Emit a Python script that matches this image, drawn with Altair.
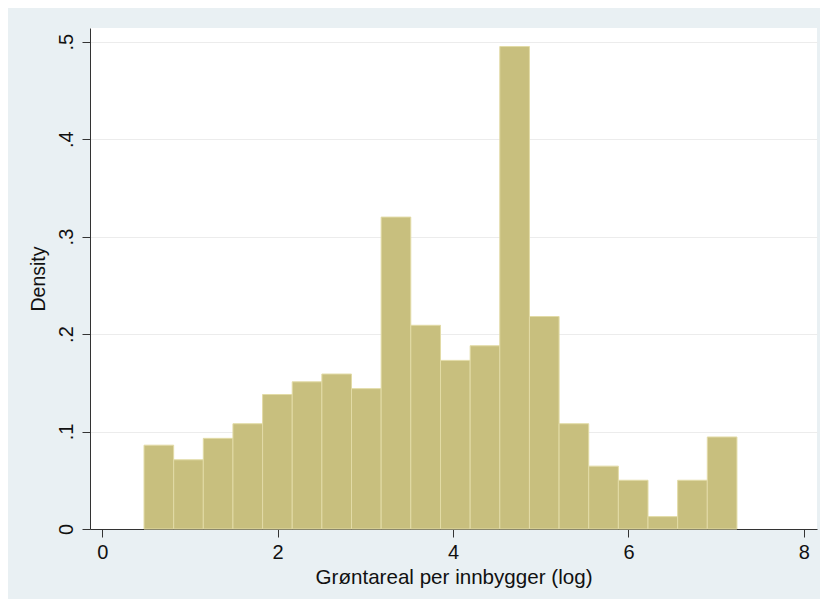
import altair as alt
import pandas as pd

bin_start = [0.476, 0.814, 1.152, 1.490, 1.828, 2.166, 2.504, 2.842, 3.180, 3.518,
             3.857, 4.195, 4.533, 4.871, 5.209, 5.547, 5.885, 6.223, 6.561, 6.899]
bin_end = [0.814, 1.152, 1.490, 1.828, 2.166, 2.504, 2.842, 3.180, 3.518, 3.857,
           4.195, 4.533, 4.871, 5.209, 5.547, 5.885, 6.223, 6.561, 6.899, 7.237]
density = [0.086, 0.071, 0.093, 0.108, 0.138, 0.151, 0.159, 0.144, 0.320, 0.209,
           0.173, 0.188, 0.495, 0.218, 0.108, 0.0645, 0.050, 0.0127, 0.050, 0.0944]

x_ticks = [0, 2, 4, 6, 8]
y_ticks = [0, 0.1, 0.2, 0.3, 0.4, 0.5]

df = pd.DataFrame({"x0": bin_start, "x1": bin_end, "d": density})

font = "Liberation Sans"

chart = alt.Chart(df).mark_rect(
    color="#c8bf7e", stroke="#e2dba6", strokeWidth=1
).encode(
    x=alt.X("x0:Q", scale=alt.Scale(domain=[-0.14, 8.15], nice=False, zero=False),
            axis=alt.Axis(values=x_ticks, title="Grøntareal per innbygger (log)",
                          grid=False, format="d", labelFontSize=20, titleFontSize=20.6,
                          labelPadding=5, titlePadding=5, tickSize=8,
                          labelFont=font, titleFont=font, titleFontWeight="normal",
                          labelColor="#111", titleColor="#111",
                          domainColor="#333", tickColor="#333", labelFlush=False)),
    x2="x1:Q",
    y=alt.Y("d:Q", scale=alt.Scale(domain=[0, 0.514], nice=False),
            axis=alt.Axis(values=y_ticks, title="Density",
                          labelExpr="datum.value == 0 ? '0' : replace(format(datum.value, '.1f'), '0.', '.')",
                          grid=True, gridColor="#ececec", gridWidth=1,
                          labelAngle=270, labelAlign="center", labelBaseline="bottom",
                          labelFontSize=20, titleFontSize=19.5, labelPadding=6,
                          titlePadding=8, tickSize=8,
                          labelFont=font, titleFont=font, titleFontWeight="normal",
                          labelColor="#111", titleColor="#111",
                          domainColor="#333", tickColor="#333", labelFlush=False)),
    y2=alt.datum(0),
).properties(
    width=727, height=501,
    background="#e9f0f3",
    padding={"left": 82, "top": 20, "right": 3, "bottom": 70},
    autosize=alt.AutoSizeParams(type="none"),
).configure_view(
    fill="white", stroke=None
)

chart.save("out.html", embed_options={"renderer": "svg", "actions": False})
